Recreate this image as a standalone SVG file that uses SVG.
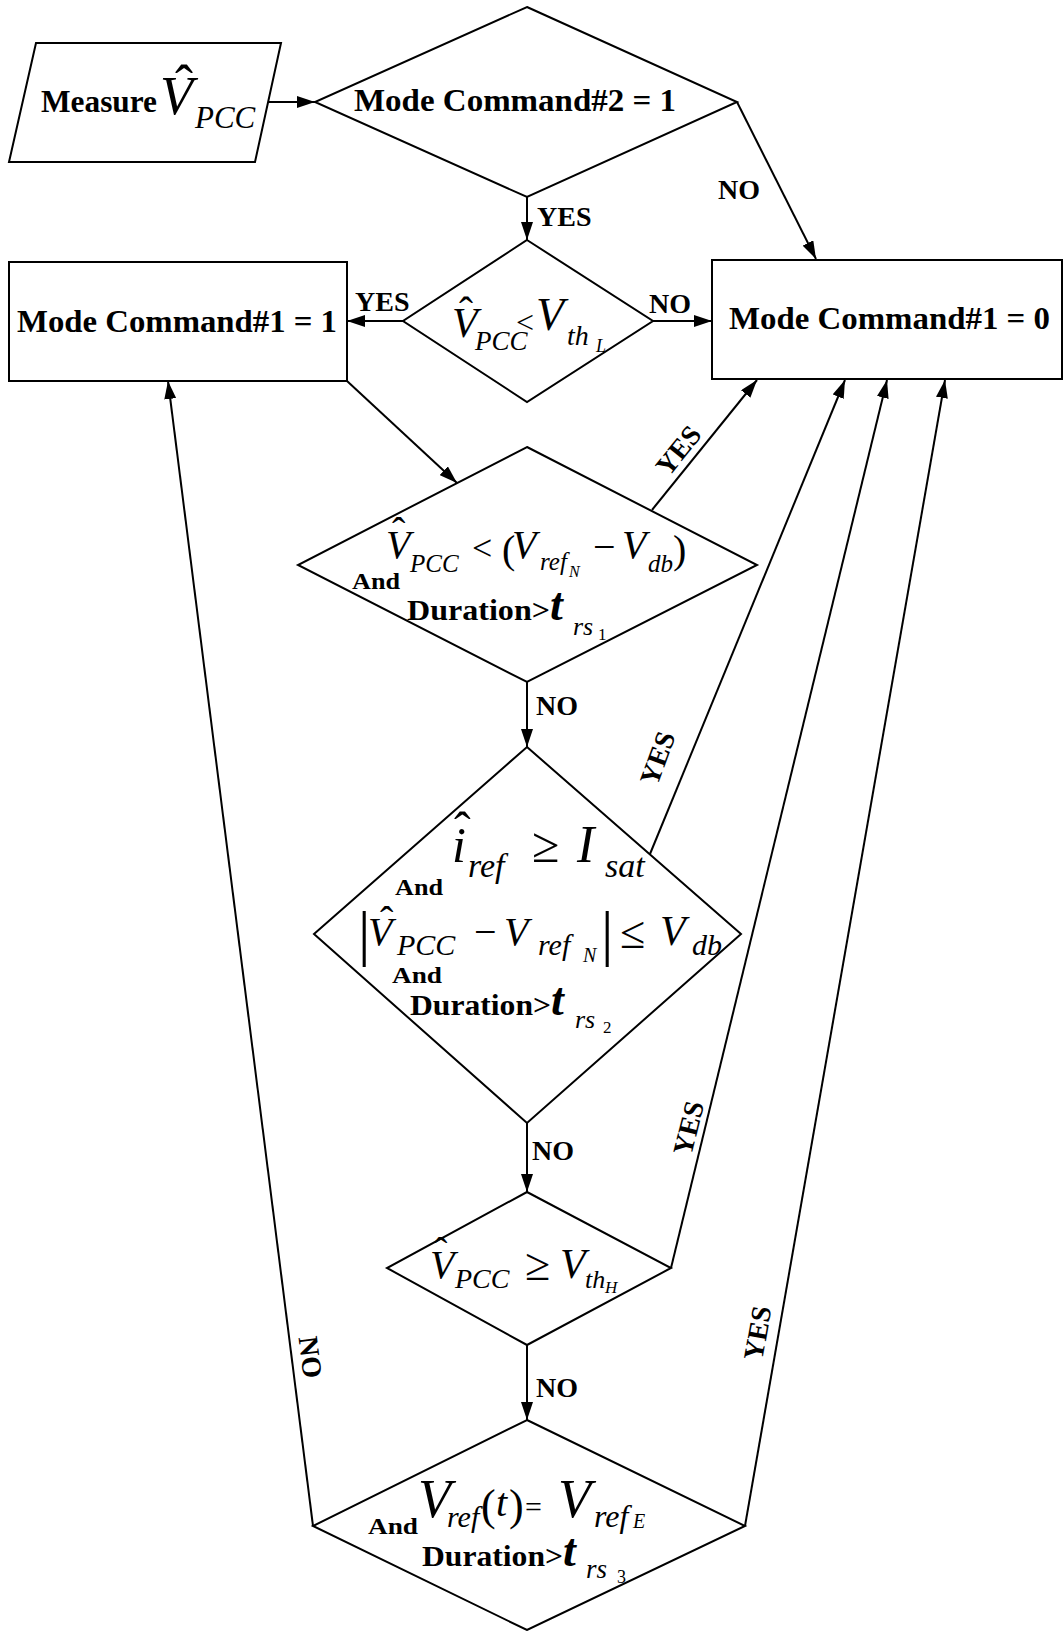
<svg xmlns="http://www.w3.org/2000/svg" width="1064" height="1631" viewBox="0 0 1064 1631">
<defs>
<marker id="ah" markerUnits="userSpaceOnUse" markerWidth="18" markerHeight="12" refX="18" refY="6" orient="auto">
<path d="M0,0 L18,6 L0,12 z" fill="#000"/>
</marker>
<style>
.shape{fill:#fff;stroke:#000;stroke-width:2}
.conn{stroke:#000;stroke-width:2;fill:none;marker-end:url(#ah)}
.lbl{font-family:"Liberation Serif",serif;font-weight:bold;font-size:28px;fill:#000}
.bt{font-family:"Liberation Serif",serif;font-weight:bold;fill:#000}
.m{font-family:"Liberation Serif",serif;font-style:italic;fill:#000}
.u{font-family:"Liberation Serif",serif;font-style:normal;font-weight:normal;fill:#000}
</style>
</defs>
<rect width="1064" height="1631" fill="#fff"/>

<g id="connectors">
<line class="conn" x1="268" y1="102" x2="315" y2="102"/>
<line class="conn" x1="527" y1="197" x2="527" y2="240"/>
<line class="conn" x1="737" y1="102" x2="816" y2="259"/>
<line class="conn" x1="403" y1="321" x2="347" y2="321"/>
<line class="conn" x1="653" y1="321" x2="712" y2="321"/>
<line class="conn" x1="347" y1="381" x2="457" y2="483"/>
<line class="conn" x1="652" y1="510" x2="757" y2="380"/>
<line class="conn" x1="527" y1="682" x2="527" y2="747"/>
<line class="conn" x1="650" y1="854" x2="845" y2="380"/>
<line class="conn" x1="527" y1="1123" x2="527" y2="1192"/>
<line class="conn" x1="671" y1="1268" x2="887" y2="380"/>
<line class="conn" x1="527" y1="1345" x2="527" y2="1420"/>
<line class="conn" x1="313" y1="1526" x2="168" y2="381"/>
<line class="conn" x1="745" y1="1526" x2="945" y2="380"/>
<text class="lbl" x="537" y="226">YES</text>
<text class="lbl" x="718" y="199">NO</text>
<text class="lbl" x="355" y="311">YES</text>
<text class="lbl" x="649" y="313">NO</text>
<text class="lbl" x="678" y="460" text-anchor="middle" transform="rotate(-51 678 450)">YES</text>
<text class="lbl" x="536" y="715">NO</text>
<text class="lbl" x="657" y="768" text-anchor="middle" transform="rotate(-70 657 758)">YES</text>
<text class="lbl" x="532" y="1160">NO</text>
<text class="lbl" x="688" y="1138" text-anchor="middle" transform="rotate(-76 688 1128)">YES</text>
<text class="lbl" x="536" y="1397">NO</text>
<text class="lbl" x="311" y="1367" text-anchor="middle" transform="rotate(83 311 1357)">NO</text>
<text class="lbl" x="757" y="1343" text-anchor="middle" transform="rotate(-80 757 1333)">YES</text>
</g>

<g id="measure">
<polygon class="shape" points="36,43 281,43 255,162 9,162"/>
<text class="bt" x="41" y="112" font-size="31" textLength="116" lengthAdjust="spacingAndGlyphs">Measure</text>
<text class="m" x="160" y="114" font-size="54">V<tspan class="u" x="175" y="103">ˆ</tspan><tspan x="195" y="128" font-size="31">PCC</tspan></text>
</g>

<g id="mode2">
<polygon class="shape" points="527,7 737,102 527,197 315,102"/>
<text class="bt" x="354" y="111" font-size="31" textLength="322" lengthAdjust="spacingAndGlyphs">Mode Command#2 = 1</text>
</g>

<g id="vth_low">
<polygon class="shape" points="527,240 653,321 527,402 403,321"/>
<text class="m" x="452" y="337" font-size="42">V<tspan class="u" x="459" y="326">ˆ</tspan><tspan x="475" y="350" font-size="27">PCC</tspan><tspan class="u" x="516" y="333" font-size="32">&lt;</tspan><tspan x="536" y="330" font-size="46">V</tspan><tspan x="567" y="345" font-size="28">th</tspan><tspan x="596" y="352" font-size="18">L</tspan></text>
</g>

<g id="mode1_1">
<rect class="shape" x="9" y="262" width="338" height="119"/>
<text class="bt" x="17" y="332" font-size="31" textLength="320" lengthAdjust="spacingAndGlyphs">Mode Command#1 = 1</text>
</g>

<g id="mode1_0">
<rect class="shape" x="712" y="260" width="350" height="119"/>
<text class="bt" x="729" y="329" font-size="31" textLength="321" lengthAdjust="spacingAndGlyphs">Mode Command#1 = 0</text>
</g>

<g id="cond1">
<polygon class="shape" points="527,447 757,565 527,682 298,565"/>
<text class="m" x="386" y="558" font-size="40">V<tspan class="u" x="392" y="545">ˆ</tspan><tspan x="410" y="572" font-size="25">PCC</tspan><tspan class="u" x="472" y="560" font-size="36">&lt;</tspan><tspan class="u" x="502" y="563">(</tspan><tspan x="512" y="558">V</tspan><tspan x="540" y="570" font-size="25">ref</tspan><tspan x="569" y="577" font-size="16">N</tspan><tspan class="u" x="593" y="560">−</tspan><tspan x="622" y="558">V</tspan><tspan x="648" y="572" font-size="25">db</tspan><tspan class="u" x="673" y="563">)</tspan></text>
<text class="bt" x="352" y="589" font-size="23" textLength="48" lengthAdjust="spacingAndGlyphs">And</text>
<text class="bt" x="407" y="620" font-size="29" textLength="143" lengthAdjust="spacingAndGlyphs">Duration&gt;</text>
<text class="m" x="550" y="620" font-size="46" font-weight="bold">t<tspan font-weight="normal" x="573" y="635" font-size="26">rs</tspan><tspan class="u" x="598" y="640" font-size="17">1</tspan></text>
</g>

<g id="cond2">
<polygon class="shape" points="527,747 741,934 527,1123 314,934"/>
<text class="m" x="452" y="862" font-size="50">i<tspan class="u" x="454" y="847">ˆ</tspan><tspan x="468" y="877" font-size="34">ref</tspan><tspan class="u" x="532" y="862">≥</tspan><tspan x="577" y="862" font-size="52">I</tspan><tspan x="605" y="877" font-size="34">sat</tspan></text>
<text class="bt" x="395" y="895" font-size="23" textLength="48" lengthAdjust="spacingAndGlyphs">And</text>
<text class="u" x="358" y="954" font-size="62">|<tspan class="m" x="368" y="945" font-size="40">V</tspan><tspan x="380" y="934" font-size="40">ˆ</tspan><tspan class="m" x="397" y="955" font-size="30">PCC</tspan><tspan x="474" y="945" font-size="40">−</tspan><tspan class="m" x="504" y="945" font-size="40">V</tspan><tspan class="m" x="538" y="955" font-size="30">ref</tspan><tspan class="m" x="583" y="962" font-size="20">N</tspan><tspan x="601" y="954">|</tspan><tspan x="620" y="948" font-size="46">≤</tspan><tspan class="m" x="660" y="945" font-size="42">V</tspan><tspan class="m" x="692" y="955" font-size="30">db</tspan></text>
<text class="bt" x="392" y="983" font-size="23" textLength="50" lengthAdjust="spacingAndGlyphs">And</text>
<text class="bt" x="410" y="1015" font-size="29" textLength="141" lengthAdjust="spacingAndGlyphs">Duration&gt;</text>
<text class="m" x="551" y="1015" font-size="46" font-weight="bold">t<tspan font-weight="normal" x="575" y="1028" font-size="26">rs</tspan><tspan class="u" x="603" y="1033" font-size="17">2</tspan></text>
</g>

<g id="vth_high">
<polygon class="shape" points="527,1192 671,1268 527,1345 387,1268"/>
<text class="m" x="430" y="1278" font-size="40">V<tspan class="u" x="434" y="1265">ˆ</tspan><tspan x="455" y="1288" font-size="28">PCC</tspan><tspan class="u" x="525" y="1280" font-size="46">≥</tspan><tspan x="560" y="1278" font-size="42">V</tspan><tspan x="585" y="1288" font-size="26">th</tspan><tspan x="605" y="1293" font-size="17">H</tspan></text>
</g>

<g id="cond3">
<polygon class="shape" points="527,1420 745,1526 527,1630 313,1526"/>
<text class="m" x="418" y="1517" font-size="54">V<tspan x="447" y="1527" font-size="30">ref</tspan><tspan class="u" x="481" y="1520" font-size="44">(</tspan><tspan x="496" y="1516" font-size="40">t</tspan><tspan class="u" x="509" y="1520" font-size="44">)</tspan><tspan class="u" x="525" y="1517" font-size="30" font-weight="bold">=</tspan><tspan x="558" y="1517">V</tspan><tspan x="594" y="1527" font-size="32">ref</tspan><tspan x="633" y="1528" font-size="20">E</tspan></text>
<text class="bt" x="368" y="1534" font-size="23" textLength="50" lengthAdjust="spacingAndGlyphs">And</text>
<text class="bt" x="422" y="1566" font-size="29" textLength="141" lengthAdjust="spacingAndGlyphs">Duration&gt;</text>
<text class="m" x="563" y="1566" font-size="46" font-weight="bold">t<tspan font-weight="normal" x="586" y="1578" font-size="27">rs</tspan><tspan class="u" x="617" y="1583" font-size="18">3</tspan></text>
</g>
</svg>
